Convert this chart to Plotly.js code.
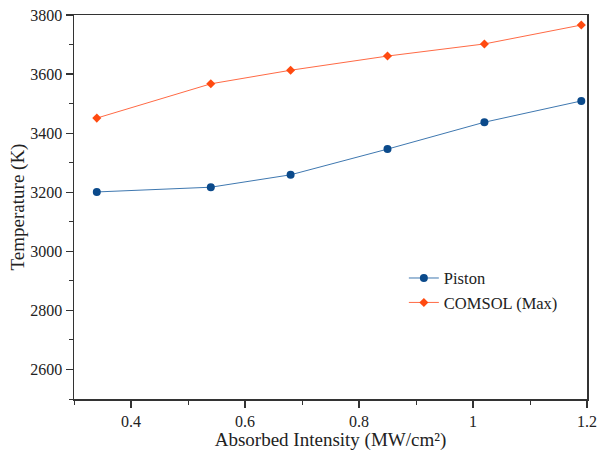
<!DOCTYPE html>
<html><head><meta charset="utf-8">
<script src="https://cdn.plot.ly/plotly-3.0.1.min.js"></script>
<style>body{margin:0;padding:0;background:#fff}#chart{width:599px;height:451px}</style>
</head><body><div id="chart"></div>
<script>
const intensity = [0.34, 0.54, 0.68, 0.85, 1.02, 1.19];
const pistonTemp = [3201, 3217, 3259, 3346, 3437, 3509];
const comsolTemp = [3451, 3567, 3613, 3661, 3702, 3766];
const seriesNames = ["Piston", "COMSOL (Max)"];

const fam = "Liberation Serif";
const font = {family: fam, color: "#222", size: 16};
const traces = [
  {x: intensity, y: pistonTemp, name: seriesNames[0], mode: "lines+markers", type: "scatter",
   line: {color: "#3f78b0", width: 1}, marker: {color: "#0b4a8b", size: 8, symbol: "circle"}},
  {x: intensity, y: comsolTemp, name: seriesNames[1], mode: "lines+markers", type: "scatter",
   line: {color: "#ff6a45", width: 1}, marker: {color: "#ff4a10", size: 7, symbol: "diamond"}}
];
const axisCommon = {showgrid: false, zeroline: false, showline: true, linecolor: "#333", linewidth: 1.5,
  mirror: true, ticks: "outside", ticklen: 7, tickwidth: 1.2, tickcolor: "#333", tickfont: font};
const layout = {
  width: 599, height: 451, paper_bgcolor: "#fff", plot_bgcolor: "#fff", font: font,
  margin: {l: 74, r: 12, t: 15, b: 52},
  showlegend: true,
  legend: {x: 0.643, y: 0.36, xanchor: "left", yanchor: "top", bgcolor: "rgba(0,0,0,0)", tracegroupgap: 0,
    font: {family: fam, size: 16.5, color: "#222"}},
  xaxis: Object.assign({}, axisCommon, {range: [0.3, 1.2], tickvals: [0.4, 0.6, 0.8, 1.0, 1.2], ticktext: ["0.4","0.6","0.8","1","1.2"],
    minor: {dtick: 0.1, tick0: 0, ticks: "outside", ticklen: 4, tickcolor: "#333", tickwidth: 1},
    title: {text: "Absorbed Intensity (MW/cm²)", font: {family: fam, size: 19, color: "#222"}, standoff: 7}}),
  yaxis: Object.assign({}, axisCommon, {range: [2500, 3800], dtick: 200, tick0: 2600,
    minor: {dtick: 100, ticks: "outside", ticklen: 4, tickcolor: "#333", tickwidth: 1},
    title: {text: "Temperature (K)", font: {family: fam, size: 19, color: "#222"}, standoff: 0}})
};
Plotly.newPlot("chart", traces, layout, {displayModeBar: false, staticPlot: true});
</script></body></html>
